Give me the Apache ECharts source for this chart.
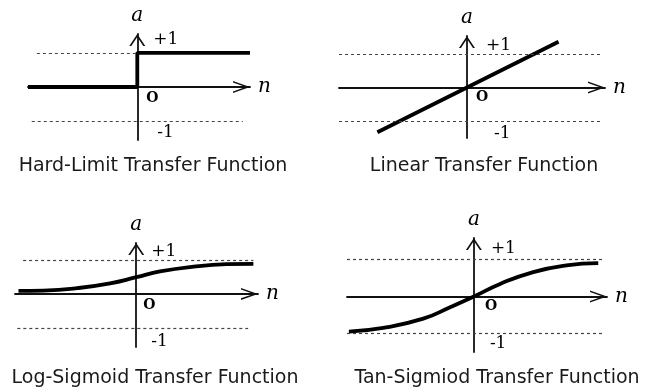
<!DOCTYPE html>
<html>
<head>
<meta charset="utf-8">
<title>Transfer Functions</title>
<script src="https://cdn.jsdelivr.net/npm/echarts@6/dist/echarts.min.js"></script>
<style>
    html, body { margin: 0; padding: 0; background: #fff; }
    #main { width: 655px; height: 387px; }
</style>
</head>
<body>
<div id="main"></div>
<script>
// panel titles
var titles = ["Hard-Limit Transfer Function", "Linear Transfer Function",
              "Log-Sigmoid Transfer Function", "Tan-Sigmiod Transfer Function"];
// curve points [n, a]
var hardlimData = [[-3.2, 0], [0, 0], [0, 1], [3.3, 1]];
var purelinData = [[-1.33, -1.33], [1.36, 1.36]];
var logsigData = [[-2.03, 0.09], [-1.6, 0.1], [-1.02, 0.17], [-0.45, 0.31], [0, 0.49],
                  [0.41, 0.66], [0.99, 0.8], [1.56, 0.87], [2.02, 0.88]];
var tansigData = [[-2.0, -0.95], [-1.45, -0.85], [-0.81, -0.6], [-0.38, -0.29], [0, 0],
                  [0.42, 0.34], [0.95, 0.66], [1.48, 0.84], [1.99, 0.9]];
// axis ranges of each panel
var nMin = [-3.2, -1.9, -2.09, -2.03];
var nMax = [3.3, 2.05, 2.1, 2.13];
var aMin = [-1.55, -1.5, -1.55, -1.5];
var aMax = [1.55, 1.53, 1.49, 1.58];
// dashed +1 / -1 guides, [n from, n to]
var upperGuide = [[-2.94, 0], [-1.9, 2.0], [-1.95, 2.02], [-2.03, 2.05]];
var lowerGuide = [[-3.09, 3.09], [-1.9, 2.0], [-2.05, 1.93], [-2.03, 2.05]];
// tick labels on the a axis
var tickValues = [1, 0, -1];
var tickLabels = ["+1", "O", "-1"];

var curves = [hardlimData, purelinData, logsigData, tansigData];
var grids = [
    {left: 28, top: 34, width: 222, height: 106},
    {left: 339, top: 36, width: 266, height: 102},
    {left: 15, top: 243, width: 243, height: 104},
    {left: 347, top: 238, width: 260, height: 114}
];
var titlePos = [[148, 152], [479, 152], [150, 364], [492, 364]];
// pixel nudges of the +1 / O / -1 labels from their tick, per panel
var labelNudge = [
    [[16, -13], [9, 11], [20, 11]],
    [[19, -8], [9, 10], [27, 12]],
    [[15, -8], [7, 11], [15, 13]],
    [[17, -11], [11, 10], [16, 10]]
];

// open chevrons for the axis ends (drawn pointing up, rotated by echarts)
var arrowN = "path://M6,0 L12,17 L10.4,17 L6,4.5 L1.6,17 L0,17 Z";
var arrowA = "path://M8,0 L16,12 L14,12 L8,3 L2,12 L0,12 Z";

var axisColor = "#111";
var serif = "'DejaVu Serif', 'Liberation Serif', serif";

function labelRich(nudge) {
    var rich = {};
    for (var k = 0; k < tickValues.length; k++) {
        var dx = nudge[k][0], dy = nudge[k][1];
        var isOrigin = tickValues[k] === 0;
        rich["r" + k] = {
            fontFamily: serif,
            fontSize: isOrigin ? 14 : 17,
            fontWeight: isOrigin ? "bold" : "normal",
            color: "#000",
            padding: [dy > 0 ? 2 * dy : 0, 0, dy < 0 ? -2 * dy : 0, dx]
        };
    }
    return rich;
}

var chart = echarts.init(document.getElementById("main"));
var option = {
    animation: false,
    backgroundColor: "#fff",
    title: [],
    grid: [],
    xAxis: [],
    yAxis: [],
    series: []
};

for (var i = 0; i < 4; i++) {
    option.title.push({
        text: titles[i],
        left: titlePos[i][0],
        top: titlePos[i][1],
        textAlign: "center",
        textStyle: {
            fontFamily: "'DejaVu Sans', sans-serif",
            fontSize: 19,
            fontWeight: "normal",
            color: "#1a1a1a"
        }
    });
    option.grid.push(grids[i]);
    option.xAxis.push({
        gridIndex: i,
        type: "value",
        min: nMin[i],
        max: nMax[i],
        name: "n",
        nameLocation: "end",
        nameGap: 8,
        nameTextStyle: {fontFamily: serif, fontStyle: "italic", fontSize: 20, color: "#000"},
        axisLine: {
            onZero: true,
            symbol: ["none", arrowN],
            symbolSize: [12, 17],
            symbolOffset: [0, -8.5],
            lineStyle: {color: axisColor, width: 1.8}
        },
        axisTick: {show: false},
        axisLabel: {show: false},
        splitLine: {show: false}
    });
    // labels sit at the grid edge, so push them over to where n = 0 is
    var zeroOffset = grids[i].width * (0 - nMin[i]) / (nMax[i] - nMin[i]);
    option.yAxis.push({
        gridIndex: i,
        type: "value",
        min: aMin[i],
        max: aMax[i],
        name: "a",
        nameLocation: "end",
        nameGap: 8,
        nameTextStyle: {fontFamily: serif, fontStyle: "italic", fontSize: 20, color: "#000"},
        axisLine: {
            onZero: true,
            symbol: ["none", arrowA],
            symbolSize: [16, 12],
            symbolOffset: [0, -6],
            lineStyle: {color: axisColor, width: 1.8}
        },
        axisTick: {show: false},
        splitLine: {show: false},
        axisLabel: {
            show: true,
            inside: true,
            margin: zeroOffset,
            customValues: tickValues,
            formatter: function(v) {
                var k = tickValues.indexOf(v);
                return k < 0 ? "" : "{r" + k + "|" + tickLabels[k] + "}";
            },
            rich: labelRich(labelNudge[i])
        }
    });
    option.series.push({
        type: "line",
        xAxisIndex: i,
        yAxisIndex: i,
        data: curves[i],
        smooth: i >= 2,
        showSymbol: false,
        symbol: "none",
        clip: false,
        z: 3,
        emphasis: {disabled: true},
        lineStyle: {color: "#000", width: 3.8},
        markLine: {
            silent: true,
            symbol: ["none", "none"],
            label: {show: false},
            emphasis: {disabled: true},
            lineStyle: {type: [3, 3], color: "#444", width: 1.2},
            data: [
                [{coord: [upperGuide[i][0], 1]}, {coord: [upperGuide[i][1], 1]}],
                [{coord: [lowerGuide[i][0], -1]}, {coord: [lowerGuide[i][1], -1]}]
            ]
        }
    });
}

chart.setOption(option);
</script>
</body>
</html>
